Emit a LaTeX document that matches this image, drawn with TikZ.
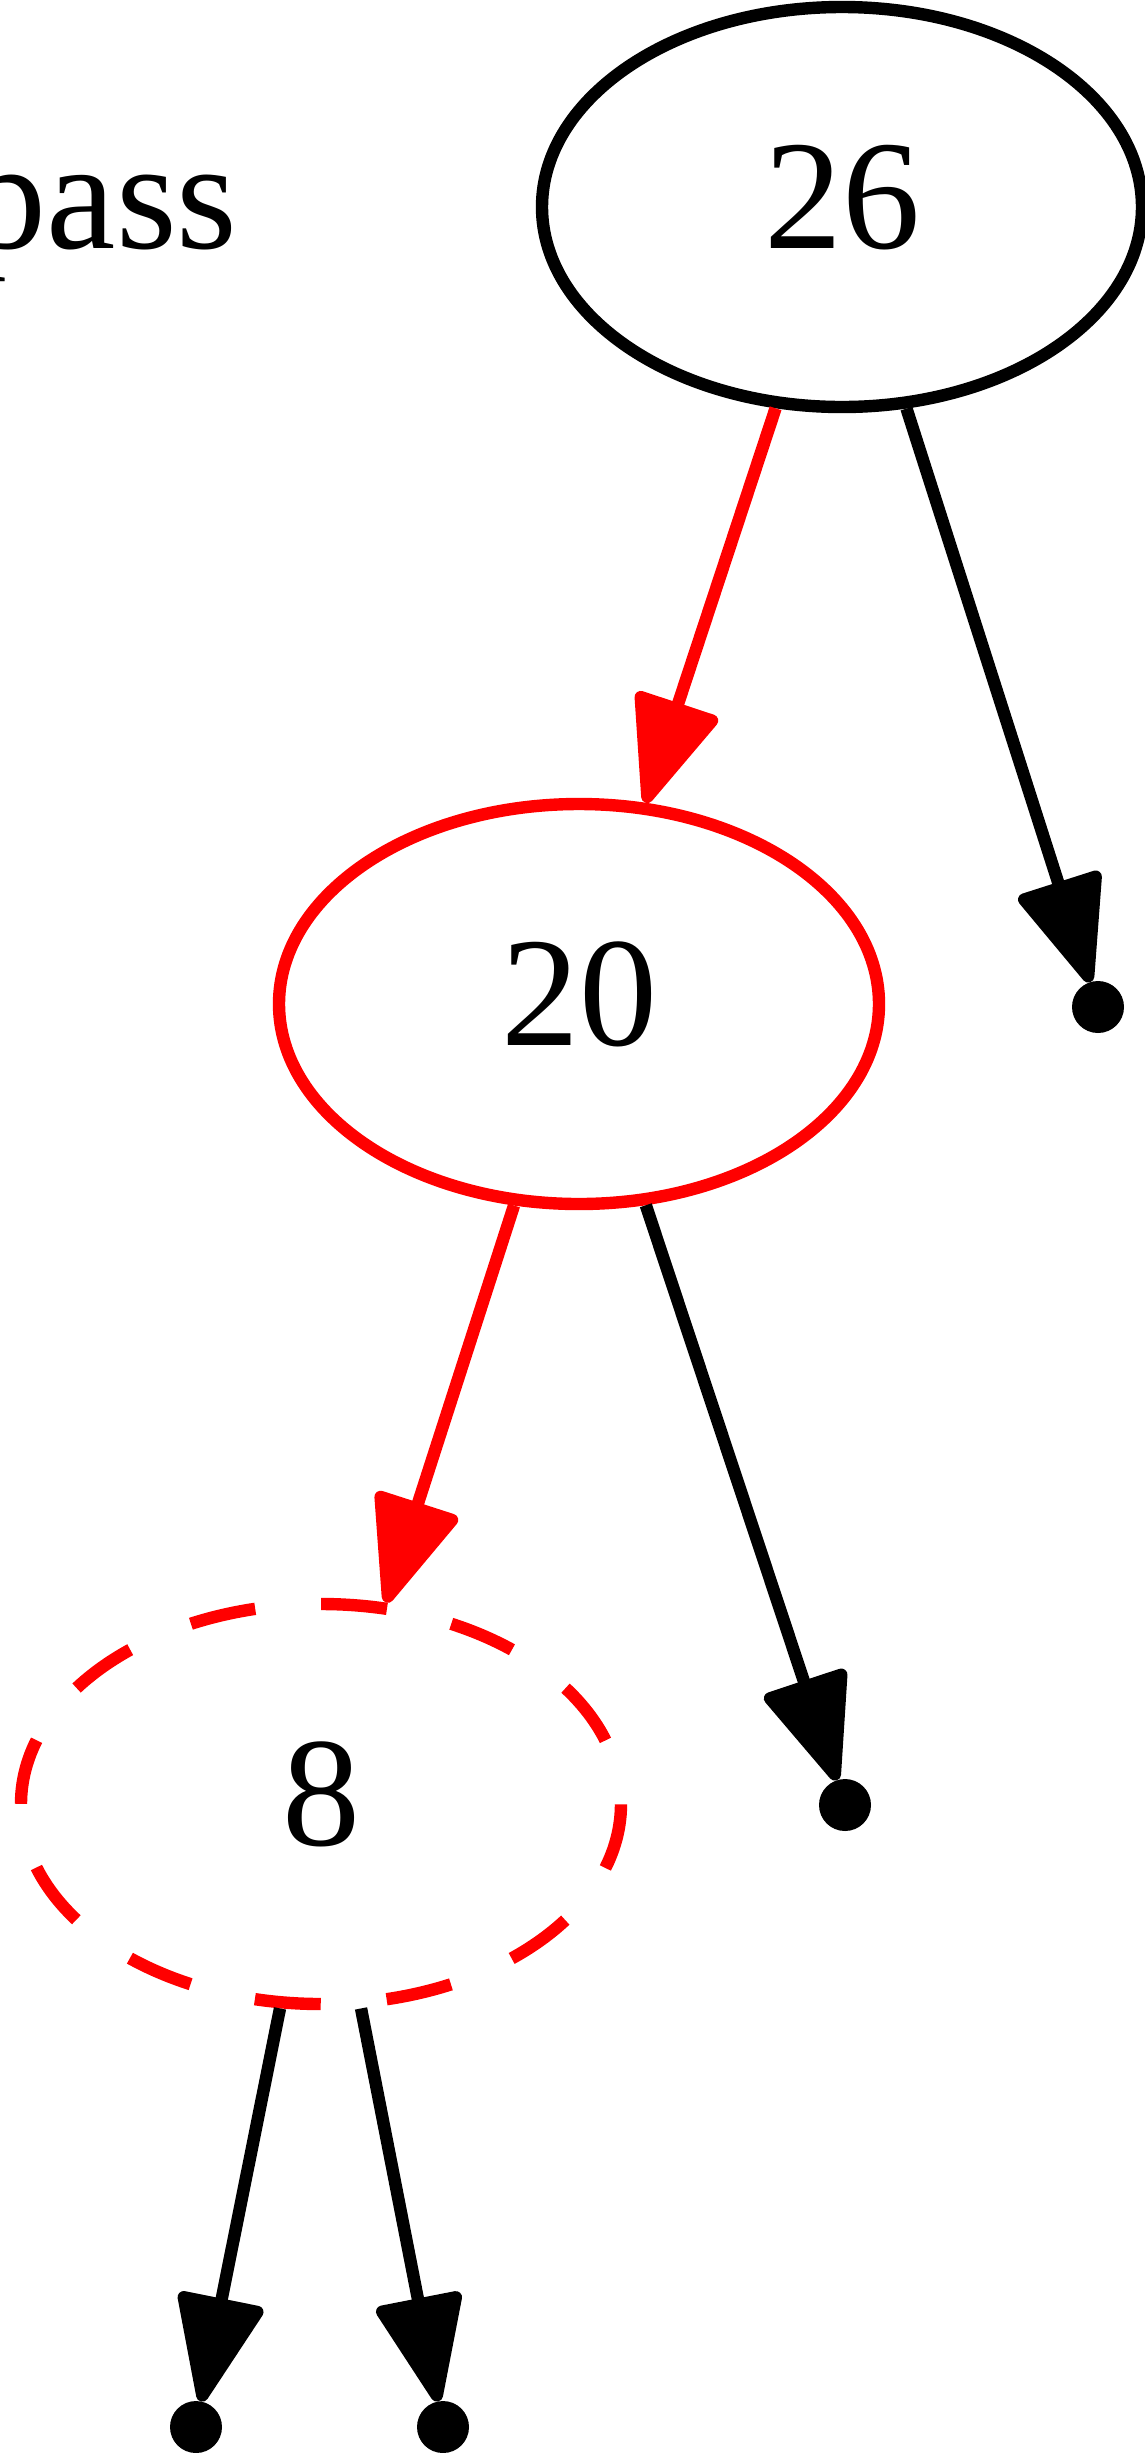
\documentclass[tikz,border=0pt]{standalone}
\usepackage{fontspec}
\setmainfont{Liberation Serif}
\usetikzlibrary{arrows.meta,shapes.geometric}
\begin{document}
\begin{tikzpicture}[x=0.5pt,y=-0.5pt,
  treenode/.style={ellipse, draw=black, line width=6.2pt, minimum width=300pt,
    minimum height=200pt, inner sep=0pt, text depth=10pt, font=\fontsize{78}{90}\selectfont},
  hotnode/.style={treenode, draw=red},
  ghostnode/.style={treenode, draw=red, dash pattern=on 33.05pt off 33.05pt, dash phase=33.05pt},
  leaf/.style={circle, fill=black, minimum size=26pt, inner sep=0pt, outer sep=0pt},
  link/.style={line width=6.2pt, draw=black, -{Triangle[length=58pt,width=45pt,round]}},
  hotlink/.style={link, draw=red, fill=red},
  lbl/.style={font=\fontsize{78}{90}\selectfont, inner sep=0pt, anchor=base east}]
\useasboundingbox (0,0) rectangle (1145,2453);
\clip (0,0) rectangle (1145,2453);
\node[lbl] (cap) at (238,248) {pass};
\node[treenode] (n26) at (842,207) {26};
\node[hotnode] (n20) at (579,1004) {20};
\node[ghostnode] (n8) at (321,1804) {8};
\node[leaf] (dA) at (1098,1007) {};
\node[leaf] (dB) at (845,1805) {};
\node[leaf] (dC) at (196,2427) {};
\node[leaf] (dD) at (443,2427) {};
\draw[hotlink] (n26) -- (n20);
\draw[link] (n26) -- (dA);
\draw[hotlink] (n20) -- (n8);
\draw[link] (n20) -- (dB);
\draw[link] (n8) -- (dC);
\draw[link] (n8) -- (dD);
\end{tikzpicture}
\end{document}
